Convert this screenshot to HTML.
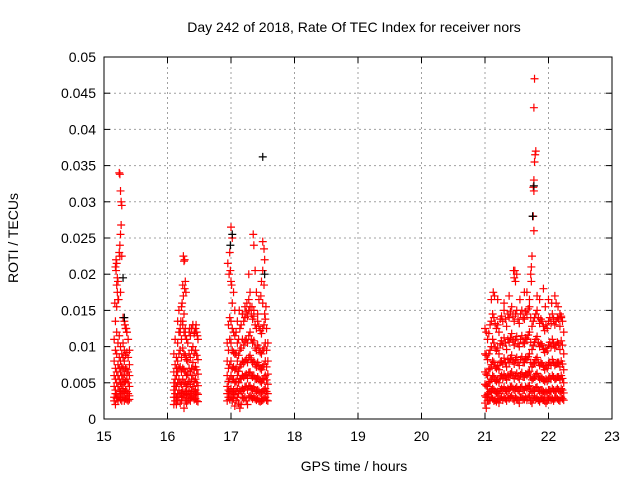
<!DOCTYPE html>
<html><head><meta charset="utf-8">
<style>
html,body{margin:0;padding:0;background:#fff;}
svg{display:block;font-family:"Liberation Sans",sans-serif;}
</style></head>
<body>
<svg id="chart" width="640" height="480" viewBox="0 0 640 480" xmlns="http://www.w3.org/2000/svg">
<rect x="0" y="0" width="640" height="480" fill="#fff"/>
<text x="354" y="32" font-size="14" text-anchor="middle">Day 242 of 2018, Rate Of TEC Index for receiver nors</text>
<text x="354" y="471" font-size="14" text-anchor="middle">GPS time / hours</text>
<text x="0" y="0" font-size="14" text-anchor="middle" transform="translate(18,238) rotate(-90)">ROTI / TECUs</text>
<g id="grid"></g>
<g id="marks"></g>
<rect x="104" y="57" width="508" height="362" fill="none" stroke="#000" stroke-width="1"/>
<g id="ticks"></g>
</svg>
<script>
const xTicks = [15,16,17,18,19,20,21,22,23];
const yTicks = [0,0.005,0.01,0.015,0.02,0.025,0.03,0.035,0.04,0.045,0.05];
const yTickLabels = ["0","0.005","0.01","0.015","0.02","0.025","0.03","0.035","0.04","0.045","0.05"];

const clusterA = [[15.17,0.016],[15.18,0.021],[15.19,0.022],[15.2,0.0215],[15.21,0.0175],[15.22,0.019],[15.24,0.034],[15.25,0.0338],[15.26,0.0315],[15.27,0.03],[15.28,0.0295],[15.27,0.0268],[15.26,0.0255],[15.25,0.024],[15.24,0.023],[15.25,0.0225],[15.28,0.0225],[15.3,0.014],[15.33,0.013],[15.35,0.0125],[15.36,0.012],[15.32,0.0135],[15.2,0.0155],[15.18,0.0135],[15.21,0.0195],[15.23,0.0165],[15.26,0.0175],[15.19,0.0205],[15.2,0.0185],[15.22,0.0165]];

const clusterB = [[16.25,0.0225],[16.27,0.022],[16.26,0.0218],[16.28,0.019],[16.27,0.018],[16.25,0.017],[16.23,0.016],[16.22,0.0155],[16.26,0.0145],[16.21,0.0135],[16.24,0.013],[16.2,0.012],[16.28,0.0125],[16.35,0.0125],[16.4,0.013],[16.43,0.012],[16.45,0.013],[16.47,0.0115],[16.29,0.0175],[16.24,0.0185],[16.18,0.015],[16.16,0.0135]];

const clusterC = [[17.0,0.0265],[17.02,0.025],[16.98,0.023],[17.35,0.0255],[17.36,0.024],[17.28,0.02],[17.38,0.0205],[17.5,0.0245],[17.52,0.0235],[17.53,0.022],[17.5,0.0205],[17.48,0.019],[17.52,0.0185],[17.47,0.017],[17.5,0.016],[17.55,0.0155],[17.53,0.0145],[16.95,0.0215],[16.97,0.02],[17.0,0.019],[17.04,0.0175],[17.02,0.016],[17.06,0.015],[17.13,0.015],[17.18,0.0145],[17.22,0.0155],[17.25,0.016],[17.28,0.0165],[17.3,0.0175],[17.33,0.0155],[17.36,0.015],[17.42,0.0145],[16.99,0.0205],[17.01,0.0185],[17.44,0.0165],[17.4,0.0175]];

const clusterDSpikes = [[21.78,0.047],[21.77,0.043],[21.8,0.037],[21.79,0.0365],[21.78,0.0355],[21.77,0.033],[21.76,0.032],[21.77,0.0315],[21.76,0.028],[21.77,0.026],[21.74,0.0225],[21.73,0.021],[21.72,0.02],[21.73,0.019],[21.45,0.0205],[21.47,0.0205],[21.5,0.02],[21.48,0.019],[21.46,0.0195],[21.92,0.018],[22.05,0.016],[22.1,0.017],[21.1,0.0165],[21.13,0.0175],[21.15,0.017],[21.62,0.0175],[21.66,0.0175],[21.82,0.017],[21.86,0.0165],[21.95,0.0155],[22.15,0.0155],[22.18,0.0145],[22.2,0.014],[21.2,0.0165],[21.3,0.016],[21.38,0.017],[21.55,0.0165],[21.7,0.0165],[22.0,0.0165],[22.12,0.016]];

const denseAT = [15.16,15.18,15.2,15.22,15.24,15.26,15.28,15.3,15.32,15.34,15.36,15.38,15.4];
const denseAV = [[.011,.008,.006,.0045,.003,.0025],[.0095,.007,.0055,.004,.0035,.002],[.012,.009,.0065,.005,.0035,.0028],[.0105,.0075,.006,.0045,.003,.0025],[.0115,.0085,.007,.0055,.004,.003],[.01,.008,.0065,.005,.0038,.0027],[.009,.0072,.006,.0048,.0035,.0025],[.0105,.0085,.007,.0055,.0042,.003],[.0095,.008,.0062,.005,.0036,.0025],[.0125,.0088,.007,.0052,.004,.0028],[.012,.0092,.0068,.0055,.0038,.0027],[.011,.0085,.0065,.005,.0035,.0025],[.0095,.0075,.006,.0045,.0032,.0027]];

const denseBT = [16.1,16.12,16.14,16.16,16.18,16.2,16.22,16.24,16.26,16.28,16.3,16.32,16.34,16.36,16.38,16.4,16.42,16.44,16.46,16.48];
const denseBV = [[.009,.0065,.005,.004,.003,.002],[.011,.0075,.0055,.0045,.0035,.0025],[.0085,.007,.006,.0045,.003,.002],[.0105,.008,.0065,.005,.0035,.0025],[.012,.009,.007,.0055,.004,.003],[.0125,.0095,.0072,.005,.0035,.0022],[.011,.0085,.0065,.0048,.0036,.0025],[.0135,.0098,.007,.0055,.004,.003],[.012,.009,.0068,.005,.0032,.0015],[.0115,.0088,.0065,.005,.0038,.0025],[.011,.0082,.006,.0045,.0034,.0022],[.0105,.008,.0062,.0048,.0035,.0025],[.012,.009,.007,.0052,.0038,.0028],[.0115,.0085,.0065,.0048,.0035,.0025],[.0125,.0095,.007,.0055,.004,.003],[.013,.01,.0078,.006,.0045,.0032],[.0118,.009,.0068,.0052,.0038,.0027],[.0125,.0095,.0072,.0055,.004,.0028],[.012,.0088,.0068,.005,.0036,.0025],[.011,.0082,.0062,.0046,.0034,.0024]];

const denseCT = [16.94,16.96,16.98,17.0,17.02,17.04,17.06,17.08,17.1,17.12,17.14,17.16,17.18,17.2,17.22,17.24,17.26,17.28,17.3,17.32,17.34,17.36,17.38,17.4,17.42,17.44,17.46,17.48,17.5,17.52,17.54,17.56,17.58];
const denseCV = [[.0105,.008,.006,.0045,.0035,.0025],[.013,.0095,.007,.0052,.004,.003],[.014,.011,.0075,.0055,.0038,.0027],[.0135,.0105,.008,.006,.0042,.003],[.0125,.0095,.007,.0055,.0036,.0025],[.012,.0092,.0072,.0055,.004,.0028],[.0115,.009,.0068,.005,.0034,.0018],[.012,.009,.007,.0052,.0038,.0025],[.0135,.0105,.008,.006,.0042,.003],[.011,.0088,.0066,.005,.0035,.0022],[.0125,.0095,.0072,.0055,.004,.0015],[.013,.0098,.0075,.0056,.0038,.002],[.0145,.011,.008,.006,.0042,.003],[.0135,.0102,.0078,.0058,.004,.0028],[.014,.0108,.008,.006,.0044,.003],[.0148,.011,.0082,.0062,.0045,.0025],[.0142,.0105,.0078,.0056,.004,.002],[.015,.0115,.0085,.0064,.0045,.003],[.0155,.012,.0088,.0065,.0046,.0032],[.0145,.011,.0082,.006,.0042,.003],[.0138,.0105,.0078,.0058,.004,.0028],[.0142,.0108,.008,.006,.0044,.003],[.013,.0098,.0075,.0056,.004,.0028],[.0125,.0095,.0072,.0055,.0038,.0026],[.0135,.0102,.0078,.0058,.004,.0028],[.0128,.0098,.0074,.0055,.0038,.0025],[.0122,.0092,.007,.0052,.0036,.0024],[.0118,.009,.0068,.005,.0036,.0025],[.0125,.0095,.0072,.0054,.0038,.0026],[.013,.0098,.0075,.0056,.004,.0028],[.0138,.0105,.008,.006,.0042,.003],[.0125,.0095,.0072,.0054,.0038,.0026],[.0105,.008,.0062,.0048,.0035,.0025]];

const denseDT = [21.0,21.02,21.04,21.06,21.08,21.1,21.12,21.14,21.16,21.18,21.2,21.22,21.24,21.26,21.28,21.3,21.32,21.34,21.36,21.38,21.4,21.42,21.44,21.46,21.48,21.5,21.52,21.54,21.56,21.58,21.6,21.62,21.64,21.66,21.68,21.7,21.72,21.74,21.76,21.78,21.8,21.82,21.84,21.86,21.88,21.9,21.92,21.94,21.96,21.98,22.0,22.02,22.04,22.06,22.08,22.1,22.12,22.14,22.16,22.18,22.2,22.22,22.24];
const denseDV = [[.0125,.009,.0065,.0048,.0032,.0022],[.012,.0088,.0062,.0046,.003,.0015],[.011,.0082,.006,.0045,.0034,.0025],[.0118,.009,.0068,.005,.0036,.0025],[.013,.0095,.007,.0052,.0038,.0026],[.0135,.01,.0075,.0055,.004,.003],[.0145,.011,.008,.006,.0042,.0028],[.014,.0105,.0078,.0058,.004,.0025],[.0132,.0098,.0072,.0054,.0038,.0026],[.0125,.0095,.007,.0052,.0036,.0024],[.013,.0098,.0074,.0055,.0038,.0028],[.012,.009,.0068,.005,.0035,.0022],[.0138,.0104,.0078,.0058,.004,.0028],[.0142,.0108,.008,.006,.0042,.003],[.0135,.0102,.0076,.0056,.004,.0026],[.015,.0112,.0084,.0062,.0044,.003],[.0138,.0105,.0078,.0058,.004,.0028],[.0128,.0096,.0072,.0054,.0038,.0025],[.0145,.011,.0082,.006,.0042,.003],[.014,.0106,.0078,.0058,.004,.0028],[.0148,.0112,.0084,.0062,.0044,.003],[.0155,.0118,.0088,.0065,.0045,.0032],[.0142,.0108,.008,.006,.0042,.0028],[.0135,.0102,.0076,.0056,.004,.0025],[.0145,.011,.0082,.006,.0042,.003],[.015,.0114,.0085,.0063,.0044,.0028],[.0138,.0104,.0078,.0058,.004,.0026],[.0132,.01,.0074,.0055,.0038,.0022],[.0145,.011,.0082,.0061,.0043,.003],[.015,.0115,.0086,.0064,.0045,.003],[.014,.0106,.0078,.0058,.004,.0028],[.0138,.0104,.0078,.0058,.004,.0027],[.0148,.0112,.0084,.0062,.0044,.003],[.0145,.011,.0082,.006,.0042,.0026],[.0152,.0116,.0086,.0064,.0045,.003],[.0155,.012,.009,.0066,.0046,.0032],[.014,.0106,.0078,.0058,.004,.0025],[.0128,.0096,.0072,.0054,.0038,.0022],[.0135,.0102,.0076,.0056,.004,.0028],[.014,.0106,.0078,.0058,.004,.003],[.0145,.011,.0082,.0061,.0043,.0028],[.015,.0114,.0085,.0063,.0044,.003],[.014,.0106,.0078,.0058,.004,.0026],[.0132,.01,.0074,.0055,.0038,.0024],[.0138,.0104,.0078,.0058,.004,.0028],[.0135,.0102,.0076,.0056,.004,.003],[.0128,.0096,.0072,.0054,.0038,.0026],[.0122,.0092,.0068,.0052,.0036,.0025],[.013,.0098,.0074,.0055,.0038,.0022],[.0125,.0094,.007,.0052,.0036,.0025],[.0135,.0102,.0076,.0056,.004,.0028],[.014,.0106,.0078,.0058,.004,.003],[.0132,.01,.0074,.0055,.0038,.0026],[.0145,.011,.0082,.006,.0042,.0028],[.0138,.0104,.0078,.0058,.004,.0025],[.013,.0098,.0074,.0055,.0038,.0028],[.0135,.0102,.0076,.0056,.004,.003],[.014,.0106,.0078,.0058,.0042,.0028],[.0138,.0104,.0078,.0058,.004,.0026],[.0128,.0096,.0072,.0054,.0038,.0025],[.0142,.0108,.008,.006,.0042,.003],[.0135,.0102,.0076,.0056,.004,.0028],[.012,.009,.0068,.005,.0036,.0026]];

const blackPoints = [[17.5,0.0362],[16.99,0.024],[17.02,0.0255],[15.3,0.0195],[21.75,0.028],[21.77,0.0322],[17.53,0.02],[15.32,0.014]];

const X0=104, X1=612, Y0=419, Y1=57;
function xs(t){ return X0 + (t-15)/(23-15)*(X1-X0); }
function ys(v){ return Y0 - v/0.05*(Y0-Y1); }
const NS="http://www.w3.org/2000/svg";
const grid=document.getElementById('grid'), ticks=document.getElementById('ticks'), marks=document.getElementById('marks');
function mk(tag, attrs, parent){ const e=document.createElementNS(NS,tag); for(const k in attrs) e.setAttribute(k,attrs[k]); parent.appendChild(e); return e; }

xTicks.forEach((t,i)=>{
  const x=xs(t);
  if(i>0 && i<xTicks.length-1){
    const g=mk('line',{x1:x,y1:Y0,x2:x,y2:Y1,stroke:'#a0a0a0','stroke-dasharray':'2,3'},grid);
    
    
  }
  mk('line',{x1:x,y1:Y0,x2:x,y2:Y0-6,stroke:'#000'},ticks);
  mk('line',{x1:x,y1:Y1,x2:x,y2:Y1+6,stroke:'#000'},ticks);
  const l=mk('text',{x:x,y:Y0+22,'font-size':14,'text-anchor':'middle'},ticks);
  l.textContent=String(t);
  
  
});
yTicks.forEach((v,i)=>{
  const y=ys(v);
  if(i>0 && i<yTicks.length-1){
    const g=mk('line',{x1:X0,y1:y,x2:X1,y2:y,stroke:'#a0a0a0','stroke-dasharray':'2,3'},grid);
    
    
  }
  mk('line',{x1:X0,y1:y,x2:X0+6,y2:y,stroke:'#000'},ticks);
  mk('line',{x1:X1,y1:y,x2:X1-6,y2:y,stroke:'#000'},ticks);
  const l=mk('text',{x:X0-8,y:y+5,'font-size':14,'text-anchor':'end'},ticks);
  l.textContent=yTickLabels[i];
  
  
});

function plus(t,v,color){
  const x=xs(t), y=ys(v);
  const p=mk('path',{d:`M${x-4},${y}H${x+4}M${x},${y-4}V${y+4}`,stroke:color,'stroke-width':1.2,fill:'none'},marks);
  
  
}
[clusterA,clusterB,clusterC,clusterDSpikes].forEach(c=>c.forEach(p=>plus(p[0],p[1],'#ff0000')));
[[denseAT,denseAV],[denseBT,denseBV],[denseCT,denseCV],[denseDT,denseDV]].forEach(([T,V])=>{
  T.forEach((t,i)=>V[i].forEach(v=>plus(t,v,'#ff0000')));
});
blackPoints.forEach(p=>plus(p[0],p[1],'#000'));
</script>
</body></html>
